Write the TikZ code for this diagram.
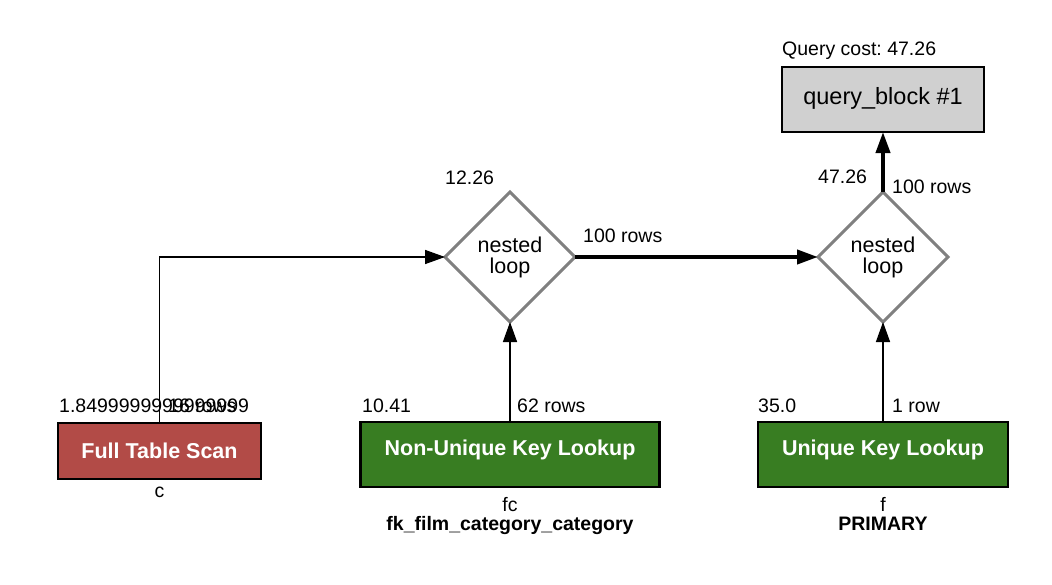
\documentclass[tikz,border=0pt]{standalone}
\usepackage{fontspec}
\setmainfont{Liberation Sans}
\usetikzlibrary{arrows.meta,shapes.geometric}
\definecolor{scanred}{RGB}{178,75,71}
\definecolor{keygreen}{RGB}{56,125,34}
\definecolor{qbgray}{RGB}{208,208,208}
\definecolor{loopgray}{RGB}{128,128,128}
\frenchspacing
\begin{document}
\begin{tikzpicture}[x=1pt,y=-1pt,
  box/.style={draw=black, line width=2.2pt, inner sep=0pt, outer sep=0pt},
  loopnode/.style={diamond, draw=loopgray, line width=3pt, minimum width=130pt, minimum height=130pt, inner sep=0pt, outer sep=0pt, align=center, font=\fontsize{21.5}{21}\selectfont},
  lbl/.style={anchor=base west, inner sep=0pt, font=\fontsize{19.5}{22}\selectfont},
  clbl/.style={anchor=base, inner sep=0pt, font=\fontsize{19.5}{22}\selectfont},
  blbl/.style={anchor=base, inner sep=0pt, font=\fontsize{19.5}{22}\selectfont\bfseries},
  boxtxt/.style={anchor=base, inner sep=0pt, text=white, font=\fontsize{21.5}{22}\selectfont\bfseries},
  flow/.style={line width=1.5pt, -{Triangle[length=20pt,width=14pt]}},
  bigflow/.style={line width=4pt, -{Triangle[length=21pt,width=14pt]}},
]
\useasboundingbox (0,0) rectangle (1052,584);

% query block
\node[box, fill=qbgray, minimum width=202pt, minimum height=65pt] (qb) at (883,99.5) {};
\node[anchor=base, inner sep=0pt, font=\fontsize{23.5}{24}\selectfont] (qbt) at (883,104) {query\_block \#1};
\node[lbl] (qcost) at (782,55) {Query cost:\ 47.26};

% nested loops
\node[loopnode] (l1) at (510,257) {nested\\loop};
\node[loopnode] (l2) at (883,257) {nested\\loop};

% tables
\node[box, fill=scanred, minimum width=203pt, minimum height=56pt] (fts) at (159.5,451) {};
\node[boxtxt] (ftst) at (159.5,458) {Full Table Scan};
\node[box, fill=keygreen, minimum width=299pt, minimum height=65pt] (nukl) at (510,454.5) {};
\node[boxtxt] (nuklt) at (510,455.5) {Non-Unique Key Lookup};
\node[box, fill=keygreen, minimum width=250pt, minimum height=65pt] (ukl) at (883,454.5) {};
\node[boxtxt] (uklt) at (883,455.5) {Unique Key Lookup};

% connectors
\draw[flow] (fts.north) |- (l1.west);
\draw[flow] (nukl.north) -- (l1.south);
\draw[flow] (ukl.north) -- (l2.south);
\draw[bigflow] (l1.east) -- (l2.west);
\draw[bigflow] (l2.north) -- (qb.south);

% labels
\node[lbl] (c1) at (445,184) {12.26};
\node[lbl] (r1) at (583,242) {100 rows};
\node[lbl] (c2) at (818,183) {47.26};
\node[lbl] (r2) at (892,193) {100 rows};
\node[lbl] (c3) at (59,412) {1.8499999999999999};
\node[lbl] (r3) at (168,412) {16 rows};
\node[lbl] (c4) at (362,412) {10.41};
\node[lbl] (r4) at (517,412) {62 rows};
\node[lbl] (c5) at (758,412) {35.0};
\node[lbl] (r5) at (892,412) {1 row};

\node[clbl] (t1) at (159.5,497) {c};
\node[clbl] (t2) at (510,511) {fc};
\node[blbl] (k2) at (510,530) {fk\_film\_category\_category};
\node[clbl] (t3) at (883,511) {f};
\node[blbl] (k3) at (883,530) {PRIMARY};
\end{tikzpicture}
\end{document}
